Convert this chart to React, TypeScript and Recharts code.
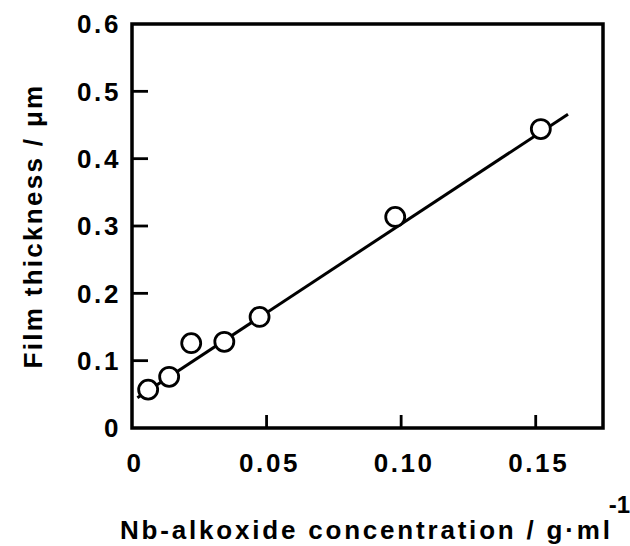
import React from 'react';
import { ComposedChart, Scatter, XAxis, YAxis, ReferenceArea } from 'recharts';

const concentration = [0.006, 0.0138, 0.022, 0.0343, 0.0474, 0.0978, 0.1519];
const thickness = [0.057, 0.076, 0.126, 0.128, 0.165, 0.3135, 0.444];
const fitX = [0.002, 0.162];
const fitY = [0.045, 0.466];
const xTicks = [0, 0.05, 0.1, 0.15];
const xTickLabels = ['0', '0.05', '0.10', '0.15'];
const yTicks = [0, 0.1, 0.2, 0.3, 0.4, 0.5, 0.6];
const yTickLabels = ['0', '0.1', '0.2', '0.3', '0.4', '0.5', '0.6'];

const points = concentration.map((x, i) => ({ x, y: thickness[i] }));
const fitLine = fitX.map((x, i) => ({ x, y: fitY[i] }));

const FONT = '"Liberation Sans", Arial, Helvetica, sans-serif';
const textStyle = { fontFamily: FONT, fontWeight: 700, fontSize: 26, letterSpacing: 2.6 } as const;

const XTick = (props: any) => {
  const { x, y, payload } = props;
  const v = payload.value;
  const i = xTicks.findIndex((t) => Math.abs(t - v) < 1e-9);
  const label = i >= 0 ? xTickLabels[i] : String(v);
  return (
    <g>
      {v > 0 && <line x1={x} y1={y} x2={x} y2={y - 13} stroke="#000" strokeWidth={2.8} />}
      <text x={x + 3} y={y + 44} textAnchor="middle" fill="#000" style={textStyle}>{label}</text>
    </g>
  );
};

const YTick = (props: any) => {
  const { x, y, payload } = props;
  const v = payload.value;
  const i = yTicks.findIndex((t) => Math.abs(t - v) < 1e-9);
  const label = i >= 0 ? yTickLabels[i] : String(v);
  return (
    <g>
      {v > 0.001 && v < 0.599 && <line x1={x} y1={y} x2={x + 16} y2={y} stroke="#000" strokeWidth={2.8} />}
      <text x={x - 11} y={y} dy="0.36em" textAnchor="end" fill="#000" style={textStyle}>{label}</text>
    </g>
  );
};

const YLabel = (props: any) => {
  const { viewBox } = props;
  const cx = viewBox.x + 33;
  const cy = viewBox.y + viewBox.height / 2;
  return (
    <text x={cx} y={cy} transform={`rotate(-90 ${cx} ${cy})`} textAnchor="middle" dominantBaseline="central" fill="#000" style={{ ...textStyle, letterSpacing: 2.3 }}>
      Film thickness / μm
    </text>
  );
};

const XLabel = (props: any) => {
  const { viewBox } = props;
  const sx = viewBox.x - 12;
  const sy = viewBox.y + 111;
  return (
    <text x={sx} y={sy} textAnchor="start" fill="#000" style={{ ...textStyle, letterSpacing: 2.8 }}>
      Nb-alkoxide concentration / g·ml
      <tspan dx={-4} dy={-26} style={{ fontSize: 24, letterSpacing: 0 }}>-1</tspan>
    </text>
  );
};

const Circle = (p: any) => (
  <circle cx={p.cx} cy={p.cy} r={9.5} fill="#fff" stroke="#000" strokeWidth={2.8} />
);

export default function App() {
  return (
    <div style={{ position: 'absolute', left: 0, top: 0, width: 630, height: 546, background: '#fff' }}>
      <ComposedChart width={630} height={546} margin={{ top: 24, right: 27, bottom: 0, left: 0 }}>
        <XAxis
          type="number"
          dataKey="x"
          domain={[0, 0.175]}
          ticks={xTicks}
          allowDataOverflow
          axisLine={false}
          tickLine={false}
          tickSize={0}
          tickMargin={0}
          tick={<XTick />}
          height={118}
          interval={0}
          label={<XLabel />}
        />
        <YAxis
          type="number"
          dataKey="y"
          domain={[0, 0.6]}
          ticks={yTicks}
          allowDataOverflow
          axisLine={false}
          tickLine={false}
          tickSize={0}
          tickMargin={0}
          tick={<YTick />}
          width={132}
          interval={0}
          label={<YLabel />}
        />
        <ReferenceArea x1={0} x2={0.175} y1={0} y2={0.6} fill="none" stroke="#000" strokeWidth={3.5} ifOverflow="visible" />
        <Scatter data={fitLine} line={{ stroke: '#000', strokeWidth: 3 }} shape={() => null} isAnimationActive={false} />
        <Scatter data={points} shape={<Circle />} isAnimationActive={false} />
      </ComposedChart>
    </div>
  );
}
